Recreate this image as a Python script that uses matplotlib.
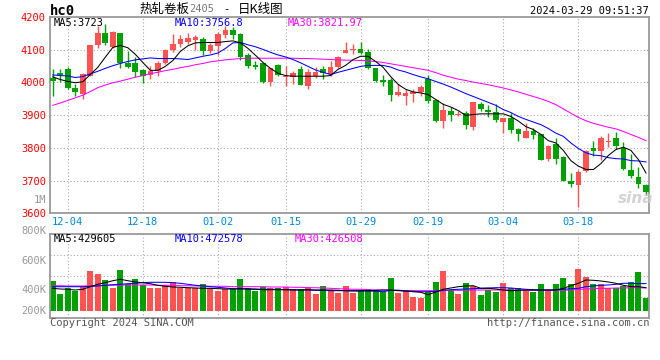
import matplotlib
matplotlib.use("Agg")
import matplotlib.pyplot as plt
import numpy as np

plt.rcParams['font.family'] = ['DejaVu Sans Mono', 'Noto Sans CJK SC']

# ---------------- data ----------------
opens = [4013, 4028, 4040, 3982, 3965, 4021, 4113, 4150, 4109, 4150,
         4058, 4058, 4037, 4022, 4035, 4060, 4098, 4116, 4124, 4130,
         4132, 4096, 4111, 4144, 4160, 4147, 4084, 4053, 4058, 4001,
         4052, 4016, 4016, 4042, 3989, 4019, 4040, 4027, 4047, 4089,
         4100, 4102, 4092, 4043, 4006, 4006, 3963, 3958, 3964, 3971,
         4009, 3945, 3882, 3914, 3900, 3908, 3863, 3933, 3917, 3909,
         3879, 3890, 3859, 3829, 3853, 3841, 3767, 3813, 3771, 3700,
         3685, 3729, 3800, 3790, 3817, 3831, 3800, 3732, 3711, 3688]
highs = [4040, 4040, 4047, 3996, 4030, 4114, 4172, 4178, 4157, 4150,
         4096, 4079, 4040, 4050, 4065, 4101, 4147, 4145, 4152, 4144,
         4140, 4121, 4154, 4172, 4170, 4152, 4091, 4065, 4060, 4045,
         4055, 4050, 4035, 4050, 4040, 4047, 4050, 4065, 4081, 4124,
         4116, 4123, 4101, 4045, 4024, 4014, 3994, 3979, 3979, 3992,
         4024, 3948, 3938, 3924, 3912, 3912, 3939, 3941, 3930, 3933,
         3890, 3906, 3861, 3877, 3861, 3841, 3810, 3831, 3774, 3723,
         3732, 3795, 3822, 3836, 3846, 3849, 3817, 3780, 3741, 3690]
lows = [3958, 4000, 3979, 3958, 3950, 4019, 4106, 4113, 4106, 4045,
        4045, 4016, 3999, 4012, 4019, 4057, 4094, 4108, 4118, 4099,
        4083, 4091, 4084, 4137, 4132, 4070, 4045, 4040, 3999, 3989,
        4021, 3989, 3994, 3991, 3981, 4014, 4012, 4021, 4045, 4089,
        4088, 4086, 4042, 4002, 3989, 3943, 3958, 3931, 3941, 3958,
        3938, 3880, 3861, 3882, 3897, 3859, 3854, 3912, 3894, 3880,
        3844, 3845, 3822, 3829, 3826, 3764, 3759, 3752, 3698, 3680,
        3618, 3727, 3774, 3762, 3802, 3798, 3732, 3708, 3678, 3657]
closes = [4004, 4024, 3984, 3970, 4027, 4113, 4150, 4121, 4155, 4058,
          4047, 4032, 4021, 4035, 4058, 4098, 4119, 4132, 4135, 4139,
          4096, 4113, 4147, 4160, 4145, 4078, 4050, 4047, 4001, 4043,
          4024, 4019, 4030, 3992, 4032, 4033, 4028, 4048, 4079, 4099,
          4103, 4089, 4045, 4004, 4001, 3963, 3971, 3967, 3971, 3986,
          3943, 3882, 3917, 3900, 3905, 3869, 3939, 3918, 3909, 3884,
          3890, 3854, 3841, 3853, 3838, 3764, 3805, 3767, 3698, 3691,
          3726, 3790, 3790, 3829, 3822, 3805, 3734, 3713, 3691, 3664]

ma5 = [4017, 4009, 4003, 3999, 4002, 4024, 4046, 4077, 4107, 4113,
       4106, 4086, 4061, 4037, 4037, 4049, 4067, 4095, 4112, 4121,
       4122, 4122, 4122, 4125, 4127, 4121, 4104, 4083, 4061, 4043,
       4028, 4021, 4019, 4019, 4019, 4019, 4019, 4021, 4040, 4052,
       4070, 4080, 4080, 4064, 4046, 4018, 3994, 3979, 3971, 3968,
       3963, 3948, 3933, 3925, 3914, 3899, 3902, 3904, 3904, 3904,
       3904, 3896, 3882, 3865, 3856, 3841, 3822, 3815, 3792, 3761,
       3744, 3734, 3734, 3752, 3777, 3795, 3802, 3792, 3764, 3723]
ma10 = [4023, 4021, 4020, 4015, 4018, 4026, 4034, 4043, 4051, 4058,
        4064, 4069, 4072, 4075, 4073, 4073, 4073, 4072, 4070, 4075,
        4080, 4084, 4090, 4104, 4121, 4122, 4115, 4109, 4101, 4092,
        4084, 4078, 4070, 4060, 4049, 4038, 4031, 4024, 4031, 4037,
        4043, 4049, 4052, 4052, 4052, 4047, 4038, 4032, 4024, 4017,
        4011, 4003, 3995, 3986, 3976, 3966, 3957, 3948, 3939, 3930,
        3917, 3908, 3896, 3887, 3879, 3871, 3859, 3845, 3835, 3815,
        3798, 3785, 3778, 3776, 3770, 3767, 3766, 3761, 3760, 3757]
ma30 = [3930, 3937, 3945, 3953, 3961, 3972, 3984, 3992, 3999, 4004,
        4010, 4016, 4021, 4027, 4031, 4036, 4040, 4045, 4049, 4054,
        4058, 4063, 4066, 4069, 4071, 4073, 4074, 4074, 4074, 4074,
        4074, 4074, 4074, 4073, 4073, 4072, 4071, 4070, 4069, 4068,
        4068, 4067, 4066, 4064, 4061, 4057, 4053, 4049, 4045, 4041,
        4037, 4030, 4022, 4016, 4010, 4006, 4001, 3997, 3993, 3988,
        3983, 3977, 3971, 3964, 3957, 3950, 3942, 3932, 3919, 3906,
        3893, 3883, 3875, 3869, 3863, 3858, 3850, 3841, 3832, 3822]

volumes_k = [497, 367, 430, 400, 440, 597, 567, 507, 430, 607,
             464, 517, 457, 430, 430, 457, 487, 430, 430, 430,
             467, 424, 397, 417, 417, 517, 424, 397, 440, 424,
             424, 440, 417, 417, 440, 367, 447, 407, 380, 447,
             380, 407, 414, 407, 390, 530, 380, 397, 340, 330,
             390, 490, 600, 407, 367, 480, 450, 357, 407, 390,
             480, 430, 424, 407, 390, 467, 407, 467, 530, 467,
             617, 540, 467, 467, 424, 424, 450, 490, 590, 330]
vma5 = [424, 417, 414, 407, 414, 440, 464, 480, 500, 514,
        500, 487, 480, 470, 454, 444, 437, 434, 430, 427,
        424, 424, 420, 417, 417, 420, 417, 414, 410, 410,
        410, 410, 407, 407, 410, 407, 407, 407, 404, 400,
        397, 397, 400, 404, 407, 407, 400, 397, 390, 384,
        360, 387, 414, 427, 440, 447, 450, 424, 424, 417,
        407, 400, 404, 407, 407, 407, 407, 407, 424, 450,
        474, 507, 504, 497, 487, 474, 454, 440, 440, 430]
vma10 = [440, 440, 440, 440, 440, 444, 447, 454, 460, 464,
         470, 474, 480, 484, 484, 484, 480, 474, 464, 454,
         447, 440, 434, 427, 420, 417, 417, 417, 414, 414,
         414, 410, 410, 407, 407, 404, 404, 400, 400, 400,
         400, 400, 397, 394, 390, 404, 404, 397, 394, 390,
         390, 394, 404, 410, 414, 417, 420, 424, 427, 430,
         430, 427, 420, 414, 410, 407, 407, 410, 414, 420,
         424, 440, 447, 454, 457, 464, 474, 474, 470, 472]
vma30 = [450, 450, 447, 447, 447, 450, 450, 454, 454, 457,
         457, 457, 457, 457, 454, 454, 454, 450, 450, 447,
         447, 444, 444, 444, 440, 440, 440, 440, 440, 437,
         437, 437, 434, 434, 430, 430, 427, 424, 420, 417,
         414, 414, 410, 407, 407, 404, 404, 400, 400, 400,
         400, 400, 400, 404, 404, 404, 407, 407, 407, 407,
         407, 407, 407, 404, 404, 404, 404, 404, 404, 407,
         414, 417, 420, 424, 424, 427, 427, 430, 430, 427]

date_idx = [2, 12, 22, 31, 41, 50, 60, 70]
date_labels = ['12-04', '12-18', '01-02', '01-15', '01-29', '02-19', '03-04', '03-18']
price_ticks = [3600, 3700, 3800, 3900, 4000, 4100, 4200]
vol_tick_labels = ['800K', '600K', '400K', '200K']
price_legend = ['MA5:3723', 'MA10:3756.8', 'MA30:3821.97']
vol_legend = ['MA5:429605', 'MA10:472578', 'MA30:426508']

# ---------------- styling ----------------
RED = '#ff5252'
GREEN = '#00a000'
GRID = '#aaaaaa'
FRAME = '#9a9a9a'
W, H = 660, 360

fig = plt.figure(figsize=(6.6, 3.6), dpi=100)
fig.patch.set_facecolor('white')


def rect(l, t, r, b):
    return [l / W, 1 - b / H, (r - l) / W, (b - t) / H]


def ftext(x, y, s, **kw):
    fig.text(x / W, 1 - y / H, s, **kw)


axp = fig.add_axes(rect(50, 17, 649, 213.3))
axv = fig.add_axes(rect(50, 234, 649, 318))

x = np.arange(len(closes))
o = np.array(opens)
c = np.array(closes)
up = c >= o
cols = [RED if u else GREEN for u in up]

XL = (-0.36, 79.4)
LW = 0.75

# ---- price panel ----
for yv in price_ticks[1:-1]:
    axp.axhline(yv, color=GRID, lw=0.8, ls=(0, (1, 2)), zorder=0)
for xi in date_idx:
    axp.axvline(xi, color=GRID, lw=0.8, ls=(0, (1, 2)), zorder=0)

axp.vlines(x, lows, highs, colors=cols, lw=1.0, zorder=2)
body_h = np.maximum(np.abs(c - o), 1.5)
axp.bar(x, body_h, bottom=np.minimum(o, c), width=0.75, color=cols,
        edgecolor='none', zorder=3)
axp.plot(x, ma30, color='#ff00ff', lw=LW, zorder=4)
axp.plot(x, ma10, color='#0000ff', lw=LW, zorder=4)
axp.plot(x, ma5, color='black', lw=LW, zorder=5)

axp.set_xlim(*XL)
axp.set_ylim(3600, 4200)
axp.set_yticks(price_ticks)
axp.set_yticklabels([str(p) for p in price_ticks])
axp.set_xticks(date_idx)
axp.set_xticklabels(date_labels)
axp.tick_params(axis='y', length=0, pad=3, labelcolor='#ff0000', labelsize=7.5)
axp.tick_params(axis='x', length=0, pad=2.5, labelcolor='#0088dd', labelsize=7.5)
for s in axp.spines.values():
    s.set_color(FRAME)
    s.set_linewidth(1.3)

leg_cols = ['black', '#0000ff', '#ff00ff']
for lbl, px, col in zip(price_legend, [54, 175, 288], leg_cols):
    ftext(px, 23.5, lbl, color=col, fontsize=7.5, ha='left', va='center')

ftext(46, 200, '1M', color='#999999', fontsize=7.5, ha='right', va='center')
ftext(636, 198, 'sina', color='#c8c8c8', fontsize=11, ha='center', va='center',
      style='italic', weight='bold', family='DejaVu Sans', alpha=0.8)

# ---- volume panel ----
VBASE = 200.0
v = np.array(volumes_k, dtype=float)
for fr in [0.25, 0.5, 0.75]:
    axv.axhline(VBASE - 73 + fr * 840, color=GRID, lw=0.8, ls=(0, (1, 2)), zorder=0)
for xi in date_idx:
    axv.axvline(xi, color=GRID, lw=0.8, ls=(0, (1, 2)), zorder=0)
axv.bar(x, v - VBASE, bottom=VBASE, width=0.8, color=cols, edgecolor='none', zorder=2)
axv.plot(x, vma30, color='#ff00ff', lw=LW, zorder=3)
axv.plot(x, vma10, color='#0000ff', lw=LW, zorder=3)
axv.plot(x, vma5, color='black', lw=LW, zorder=4)
axv.set_xlim(*XL)
axv.set_ylim(VBASE - 73, VBASE + 767)
axv.set_xticks(date_idx)
axv.set_xticklabels([])
axv.set_yticks([])
axv.tick_params(axis='x', length=0)
for s in axv.spines.values():
    s.set_color(FRAME)
    s.set_linewidth(1.3)

for lbl, py in zip(vol_tick_labels, [231, 261, 290, 310.5]):
    ftext(46, py, lbl, color='#999999', fontsize=7.5, ha='right', va='center')
for lbl, px, col in zip(vol_legend, [54, 175, 295], leg_cols):
    ftext(px, 238.5, lbl, color=col, fontsize=7.5, ha='left', va='center')

# ---- header / footer ----
ftext(50, 11, 'hc0', color='black', fontsize=10, weight='bold', ha='left', va='center')
ftext(140, 9, '热轧卷板', color='black', fontsize=9, ha='left', va='center',
      family=['Noto Sans CJK SC'])
ftext(189, 9.5, '2405', color='#777777', fontsize=7.5, ha='left', va='center')
ftext(226, 9.5, '-', color='black', fontsize=7.5, ha='center', va='center')
ftext(238, 9, '日K线图', color='black', fontsize=9, ha='left', va='center',
      family=['Noto Sans CJK SC'])
ftext(649, 11.5, '2024-03-29 09:51:37', color='black', fontsize=7.5,
      ha='right', va='center')
ftext(50, 323.5, 'Copyright 2024 SINA.COM', color='#555555', fontsize=7.5,
      ha='left', va='center')
ftext(649, 323.5, 'http://finance.sina.com.cn', color='#555555', fontsize=7.5,
      ha='right', va='center')

fig.savefig('out.png', dpi=100)
